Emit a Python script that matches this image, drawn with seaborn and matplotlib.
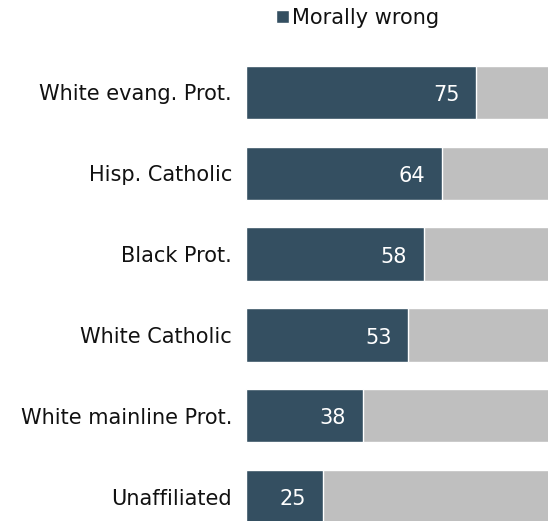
import matplotlib
matplotlib.use("Agg")
import matplotlib.pyplot as plt
import seaborn as sns
import pandas as pd

categories = ["White evang. Prot.", "Hisp. Catholic", "Black Prot.", "White Catholic",
              "White mainline Prot.", "Unaffiliated"]
morally_wrong = [75, 64, 58, 53, 38, 25]
total = [100, 100, 100, 100, 100, 100]

dark = "#344F61"
grey = "#BFBFBF"

sns.set_theme(style="white")
plt.rcParams['font.family'] = ['DejaVu Sans']

df = pd.DataFrame({"cat": categories, "wrong": morally_wrong, "total": total})

fig = plt.figure(figsize=(5.48, 5.21), dpi=100)
ax = fig.add_axes([246/548, 0.0, 1 - 246/548, (521 - 60) / 521])

sns.barplot(data=df, x="total", y="cat", color=grey, width=0.66, ax=ax,
            saturation=1)
sns.barplot(data=df, x="wrong", y="cat", color=dark, width=0.66, ax=ax,
            saturation=1, label="Morally wrong")

for i, v in enumerate(morally_wrong):
    ax.annotate(str(v), xy=(v, i), xytext=(-12, -2), textcoords="offset points",
                ha="right", va="center", color="white", fontsize=15)

ax.set_xlim(0, 98.5)
ax.set_ylim(5.303, -0.402)
ax.set_xlabel("")
ax.set_ylabel("")
ax.set_xticks([])
ax.tick_params(axis="y", length=0, pad=10, labelsize=15, labelcolor="#111111")
for s in ax.spines.values():
    s.set_visible(False)

handles, labels = ax.get_legend_handles_labels()
h = [hh for hh, ll in zip(handles, labels) if ll == "Morally wrong"]
if ax.get_legend() is not None:
    ax.get_legend().remove()
fig.legend(h, ["Morally wrong"], loc="center left", bbox_to_anchor=(276/548, 1 - 18/521),
           frameon=False, fontsize=15, handlelength=0.62, handleheight=0.62,
           handletextpad=0.15, borderpad=0, borderaxespad=0, labelcolor="#111111")

fig.savefig("out.png", dpi=100)
